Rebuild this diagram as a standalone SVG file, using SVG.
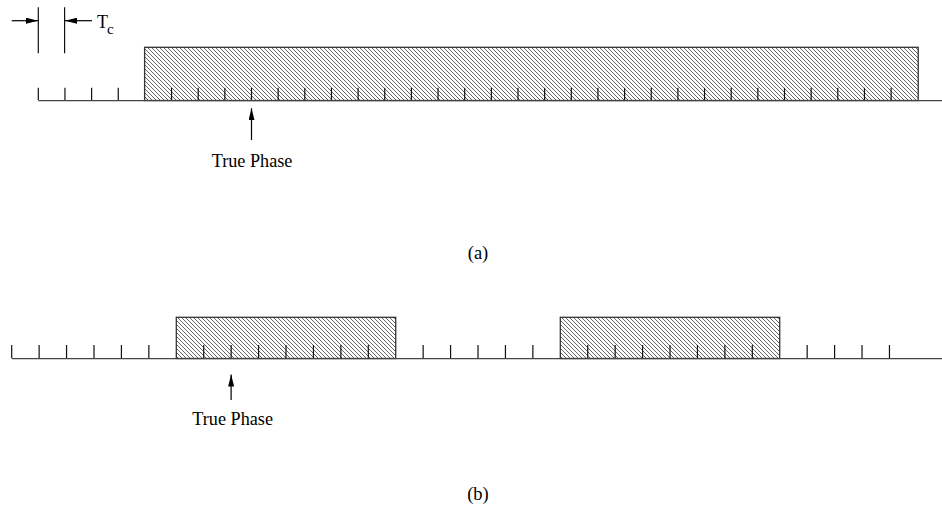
<svg xmlns="http://www.w3.org/2000/svg" width="942" height="529" viewBox="0 0 942 529">
<defs>
<pattern id="hatch" patternUnits="userSpaceOnUse" width="4" height="4">
<path d="M-1,-1 L5,5 M-1,3 L1,5 M3,-1 L5,1" stroke="#555" stroke-width="0.9"/>
</pattern>
<marker id="ah" viewBox="0 0 12 6" refX="12" refY="3" markerWidth="12" markerHeight="6" markerUnits="userSpaceOnUse" orient="auto">
<path d="M0,0 L12,3 L0,6 Z" fill="#000"/>
</marker>
</defs>
<style>
.ax{stroke:#444;stroke-width:1.3;fill:none}
.tk{stroke:#111;stroke-width:1.2;fill:none}
.blk{fill:url(#hatch);stroke:#333;stroke-width:1.3}
.ar{stroke:#000;stroke-width:1.2;fill:none;marker-end:url(#ah)}
.t{font-family:"Liberation Serif","Times New Roman",serif;fill:#000}
</style>
<rect width="942" height="529" fill="#fff"/>

<g id="diagram-a">
<rect id="a-block" class="blk" x="144.6" y="47.3" width="773.6" height="53.2"/>
<path class="ax" d="M38.3,100.6 H942"/>
<path class="tk" d="M38.3,87.7V100 M64.95,87.7V100 M91.6,87.7V100 M118.25,87.7V100 M171.55,87.7V100 M198.2,87.7V100 M224.85,87.7V100 M251.5,87.7V100 M278.15,87.7V100 M304.8,87.7V100 M331.45,87.7V100 M358.1,87.7V100 M384.75,87.7V100 M411.4,87.7V100 M438.05,87.7V100 M464.7,87.7V100 M491.35,87.7V100 M518,87.7V100 M544.65,87.7V100 M571.3,87.7V100 M597.95,87.7V100 M624.6,87.7V100 M651.25,87.7V100 M677.9,87.7V100 M704.55,87.7V100 M731.2,87.7V100 M757.85,87.7V100 M784.5,87.7V100 M811.15,87.7V100 M837.8,87.7V100 M864.45,87.7V100 M891.1,87.7V100"/>
<g id="tc-marker">
<path class="tk" d="M38.3,7.3V53.3 M64.6,7.3V53.3"/>
<path class="ar" d="M11.7,20.7H38"/>
<path class="ar" d="M92,20.7H65"/>
<text class="t" x="97" y="28" font-size="18">T</text>
<text class="t" x="107" y="34" font-size="15">c</text>
</g>
<g id="a-true-phase">
<path class="ar" d="M251.5,140V108.3"/>
<text class="t" x="211.7" y="166.7" font-size="18.2">True Phase</text>
</g>
<text id="label-a" class="t" x="478" y="259" font-size="18.5" text-anchor="middle">(a)</text>
</g>

<g id="diagram-b">
<rect id="b-block-1" class="blk" x="176.3" y="317.3" width="219.4" height="41.2"/>
<rect id="b-block-2" class="blk" x="560.3" y="317.3" width="219.4" height="41.2"/>
<path class="ax" d="M11.7,358.6 H942"/>
<path class="tk" d="M11.7,345V358 M39.13,345V358 M66.56,345V358 M93.99,345V358 M121.42,345V358 M148.85,345V358 M203.71,345V358 M231.14,345V358 M258.57,345V358 M286,345V358 M313.43,345V358 M340.86,345V358 M368.29,345V358 M423.15,345V358 M450.58,345V358 M478.01,345V358 M505.44,345V358 M532.87,345V358 M587.73,345V358 M615.16,345V358 M642.59,345V358 M670.02,345V358 M697.45,345V358 M724.88,345V358 M752.31,345V358 M807.17,345V358 M834.6,345V358 M862.03,345V358 M889.46,345V358"/>
<g id="b-true-phase">
<path class="ar" d="M231.1,400V374.5"/>
<text class="t" x="192.3" y="425" font-size="18.2">True Phase</text>
</g>
<text id="label-b" class="t" x="478" y="500" font-size="18.5" text-anchor="middle">(b)</text>
</g>
</svg>
